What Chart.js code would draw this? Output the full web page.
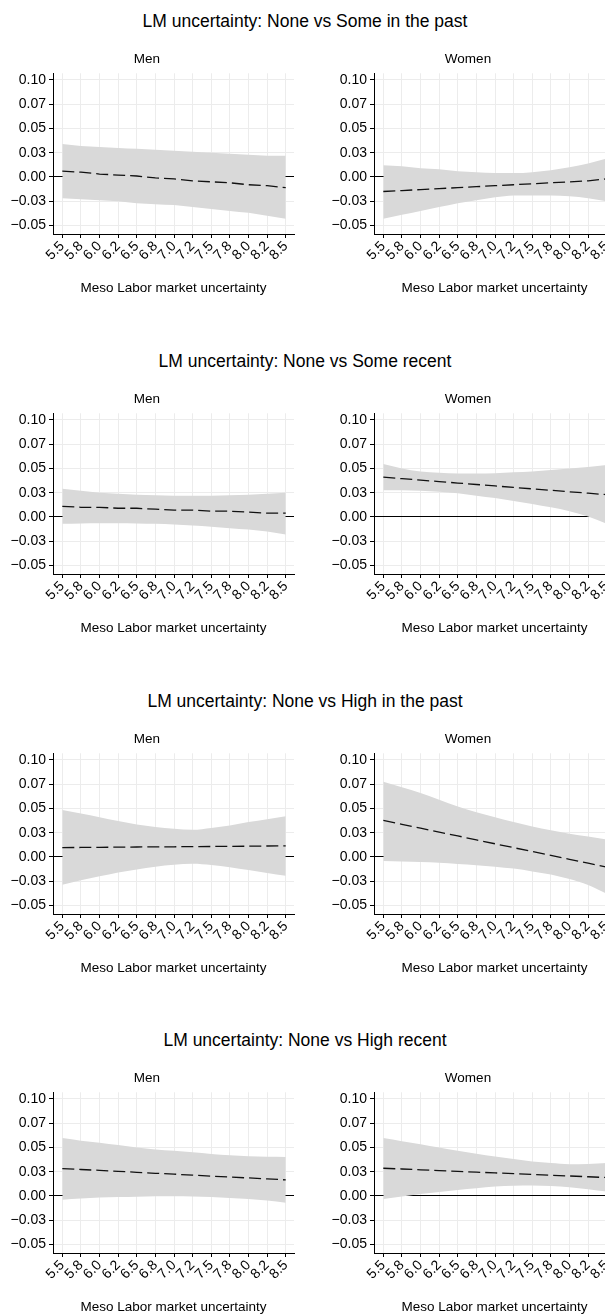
<!DOCTYPE html>
<html lang="en">

<head>
    <meta charset="UTF-8">
    <title>LM uncertainty by meso labor market uncertainty</title>
    <script src="https://cdn.jsdelivr.net/npm/chart.js"></script>
    <style>
        html, body {
            margin: 0;
            padding: 0;
            width: 605px;
            height: 1316px;
            overflow: hidden;
            background: #fff;
        }

        .main-title {
            position: absolute;
            left: 0;
            width: 610px;
            text-align: center;
            font-family: 'Liberation Sans', Arial, sans-serif;
            font-size: 17.5px;
            line-height: 20px;
            color: #000;
            white-space: nowrap;
        }

        canvas {
            position: absolute;
        }
    </style>
</head>

<body>

    <script>
        // x positions and tick labels (Stata style, 0.025 steps printed with 2 decimals)
        const xValues = [5.5, 5.75, 6.0, 6.25, 6.5, 6.75, 7.0, 7.25, 7.5, 7.75, 8.0, 8.25, 8.5];
        const xTickLabels = ['5.5', '5.8', '6.0', '6.2', '6.5', '6.8', '7.0', '7.2', '7.5', '7.8', '8.0', '8.2', '8.5'];
        const yTickValues = [-0.05, -0.025, 0, 0.025, 0.05, 0.075, 0.1];
        const yTickLabels = ['\u22120.05', '\u22120.03', '0.00', '0.03', '0.05', '0.07', '0.10'];

        const blockTitles = [
            'LM uncertainty: None vs Some in the past',
            'LM uncertainty: None vs Some recent',
            'LM uncertainty: None vs High in the past',
            'LM uncertainty: None vs High recent'
        ];
        const groups = ['Men', 'Women'];
        const xAxisTitle = 'Meso Labor market uncertainty';

        // None vs Some in the past
        const somePastMenEst = [0.006, 0.005, 0.003, 0.002, 0.001, -0.001, -0.002, -0.004, -0.005, -0.006, -0.008, -0.009, -0.011];
        const somePastMenHi = [0.034, 0.032, 0.031, 0.030, 0.029, 0.028, 0.027, 0.026, 0.025, 0.024, 0.023, 0.022, 0.022];
        const somePastMenLo = [-0.022, -0.023, -0.024, -0.025, -0.027, -0.028, -0.029, -0.031, -0.033, -0.035, -0.037, -0.040, -0.043];
        const somePastWomenEst = [-0.015, -0.014, -0.013, -0.012, -0.011, -0.010, -0.009, -0.008, -0.007, -0.006, -0.005, -0.004, -0.002];
        const somePastWomenHi = [0.012, 0.011, 0.009, 0.008, 0.006, 0.005, 0.004, 0.004, 0.005, 0.007, 0.010, 0.014, 0.019];
        const somePastWomenLo = [-0.043, -0.039, -0.035, -0.031, -0.027, -0.024, -0.021, -0.019, -0.019, -0.019, -0.020, -0.022, -0.025];

        // None vs Some recent
        const someRecentMenEst = [0.011, 0.010, 0.010, 0.009, 0.009, 0.008, 0.007, 0.007, 0.006, 0.006, 0.005, 0.004, 0.004];
        const someRecentMenHi = [0.029, 0.027, 0.025, 0.024, 0.023, 0.0225, 0.022, 0.022, 0.022, 0.0225, 0.023, 0.024, 0.025];
        const someRecentMenLo = [-0.007, -0.0066, -0.0064, -0.0064, -0.0066, -0.007, -0.0077, -0.0088, -0.010, -0.0115, -0.013, -0.015, -0.018];
        const someRecentWomenEst = [0.041, 0.0395, 0.038, 0.0365, 0.035, 0.0335, 0.032, 0.0305, 0.029, 0.0275, 0.026, 0.0245, 0.023];
        const someRecentWomenHi = [0.0545, 0.050, 0.047, 0.0455, 0.0448, 0.0448, 0.0452, 0.046, 0.047, 0.0485, 0.050, 0.0515, 0.0535];
        const someRecentWomenLo = [0.0276, 0.0275, 0.027, 0.026, 0.0245, 0.022, 0.0195, 0.0165, 0.0135, 0.010, 0.006, 0.0005, -0.007];

        // None vs High in the past
        const highPastMenEst = [0.0097, 0.0098, 0.0100, 0.0101, 0.0103, 0.0104, 0.0105, 0.0107, 0.0108, 0.0110, 0.0111, 0.0113, 0.0114];
        const highPastMenHi = [0.0484, 0.0447, 0.041, 0.037, 0.0336, 0.031, 0.029, 0.028, 0.030, 0.0325, 0.036, 0.039, 0.042];
        const highPastMenLo = [-0.0287, -0.024, -0.020, -0.016, -0.0128, -0.010, -0.008, -0.007, -0.0083, -0.0105, -0.0135, -0.0165, -0.0194];
        const highPastWomenEst = [0.0377, 0.0337, 0.0297, 0.0257, 0.0217, 0.0176, 0.0136, 0.0096, 0.0056, 0.0016, -0.0024, -0.0064, -0.0105];
        const highPastWomenHi = [0.0775, 0.072, 0.066, 0.059, 0.052, 0.046, 0.041, 0.036, 0.0315, 0.0275, 0.024, 0.021, 0.018];
        const highPastWomenLo = [-0.0042, -0.0046, -0.0052, -0.006, -0.0073, -0.0085, -0.010, -0.012, -0.0149, -0.018, -0.0228, -0.029, -0.038];

        // None vs High recent
        const highRecentMenEst = [0.0283, 0.0273, 0.0264, 0.0254, 0.0244, 0.0234, 0.0225, 0.0215, 0.0205, 0.0195, 0.0186, 0.0176, 0.0166];
        const highRecentMenHi = [0.0597, 0.057, 0.055, 0.0525, 0.050, 0.048, 0.0466, 0.045, 0.0434, 0.042, 0.041, 0.0405, 0.0403];
        const highRecentMenLo = [-0.0038, -0.0027, -0.0017, -0.0011, -0.0007, -0.0004, -0.0003, -0.0005, -0.001, -0.002, -0.003, -0.0047, -0.0069];
        const highRecentWomenEst = [0.0286, 0.0278, 0.027, 0.0262, 0.0254, 0.0246, 0.0238, 0.023, 0.0222, 0.0214, 0.0206, 0.0198, 0.019];
        const highRecentWomenHi = [0.0597, 0.0565, 0.0534, 0.050, 0.0466, 0.0435, 0.0407, 0.038, 0.0355, 0.034, 0.0328, 0.033, 0.034];
        const highRecentWomenLo = [-0.003, -0.0005, 0.002, 0.0042, 0.0062, 0.008, 0.0097, 0.0105, 0.0107, 0.0102, 0.009, 0.007, 0.0045];

        const panels = [
            [[somePastMenEst, somePastMenHi, somePastMenLo], [somePastWomenEst, somePastWomenHi, somePastWomenLo]],
            [[someRecentMenEst, someRecentMenHi, someRecentMenLo], [someRecentWomenEst, someRecentWomenHi, someRecentWomenLo]],
            [[highPastMenEst, highPastMenHi, highPastMenLo], [highPastWomenEst, highPastWomenHi, highPastWomenLo]],
            [[highRecentMenEst, highRecentMenHi, highRecentMenLo], [highRecentWomenEst, highRecentWomenHi, highRecentWomenLo]]
        ];

        const FONT = 'Liberation Sans, Arial, sans-serif';
        const BLOCK_H = 339.8;
        const GRID = '#ececec';

        function points(values) {
            return values.map(function (v, k) { return { x: xValues[k], y: v }; });
        }

        function makePanel(block, g) {
            var top = Math.round(block * BLOCK_H) + 40;
            var left = g === 0 ? 0 : 321;
            var canvas = document.createElement('canvas');
            canvas.width = 296;
            canvas.height = 262;
            canvas.style.left = left + 'px';
            canvas.style.top = top + 'px';
            document.body.appendChild(canvas);

            var series = panels[block][g];
            var tickFont = { family: FONT, size: 14 };
            var labelFont = { family: FONT, size: 13.5 };

            new Chart(canvas, {
                type: 'line',
                data: {
                    datasets: [{
                        data: points(series[0]),
                        borderColor: '#111',
                        borderWidth: 1.3,
                        borderDash: [12, 5],
                        pointRadius: 0,
                        fill: false,
                        tension: 0
                    }, {
                        data: points(series[1]),
                        borderWidth: 0,
                        borderColor: 'rgba(0,0,0,0)',
                        backgroundColor: '#d9d9d9',
                        pointRadius: 0,
                        fill: '+1',
                        cubicInterpolationMode: 'monotone'
                    }, {
                        data: points(series[2]),
                        borderWidth: 0,
                        borderColor: 'rgba(0,0,0,0)',
                        pointRadius: 0,
                        fill: false,
                        cubicInterpolationMode: 'monotone'
                    }]
                },
                options: {
                    responsive: false,
                    animation: false,
                    devicePixelRatio: 1,
                    layout: { padding: { left: 0, right: 2, top: 0, bottom: 0 } },
                    plugins: {
                        legend: { display: false },
                        tooltip: { enabled: false },
                        title: {
                            display: true,
                            text: groups[g],
                            color: '#000',
                            font: { family: FONT, size: 13.5, weight: 'normal' },
                            padding: { top: 10.9, bottom: 6.2 }
                        }
                    },
                    scales: {
                        x: {
                            type: 'linear',
                            min: 5.375,
                            max: 8.611,
                            afterBuildTicks: function (s) {
                                s.ticks = xValues.map(function (v) { return { value: v }; });
                            },
                            afterFit: function (s) {
                                s.height = 68;
                                s.paddingLeft = 0;
                                s.paddingRight = 0;
                            },
                            ticks: {
                                autoSkip: false,
                                minRotation: 45,
                                maxRotation: 45,
                                padding: 0,
                                color: '#000',
                                font: tickFont,
                                callback: function (v, i) { return xTickLabels[i]; }
                            },
                            grid: { color: GRID, tickColor: '#000', tickLength: 4 },
                            border: { color: '#000', width: 1 },
                            title: {
                                display: true,
                                text: xAxisTitle,
                                color: '#000',
                                font: labelFont,
                                padding: { top: 0, bottom: 5.9 }
                            }
                        },
                        y: {
                            type: 'linear',
                            min: -0.0588,
                            max: 0.1069,
                            afterBuildTicks: function (s) {
                                s.ticks = yTickValues.map(function (v) { return { value: v }; });
                            },
                            afterFit: function (s) {
                                s.width = 53;
                                s.paddingTop = 0;
                                s.paddingBottom = 0;
                            },
                            ticks: {
                                autoSkip: false,
                                padding: 3,
                                color: '#000',
                                font: tickFont,
                                callback: function (v, i) { return yTickLabels[i]; }
                            },
                            grid: {
                                // zero reference line drawn as the black gridline under the band
                                color: function (ctx) {
                                    return ctx.tick && ctx.tick.value === 0 ? '#000' : GRID;
                                },
                                tickColor: '#000',
                                tickLength: 4
                            },
                            border: { color: '#000', width: 1 }
                        }
                    }
                }
            });
        }

        blockTitles.forEach(function (t, i) {
            var div = document.createElement('div');
            div.className = 'main-title';
            div.style.top = (Math.round(i * BLOCK_H) + 11) + 'px';
            div.textContent = t;
            document.body.appendChild(div);

            makePanel(i, 0);
            makePanel(i, 1);
        });
    </script>

</body>

</html>
